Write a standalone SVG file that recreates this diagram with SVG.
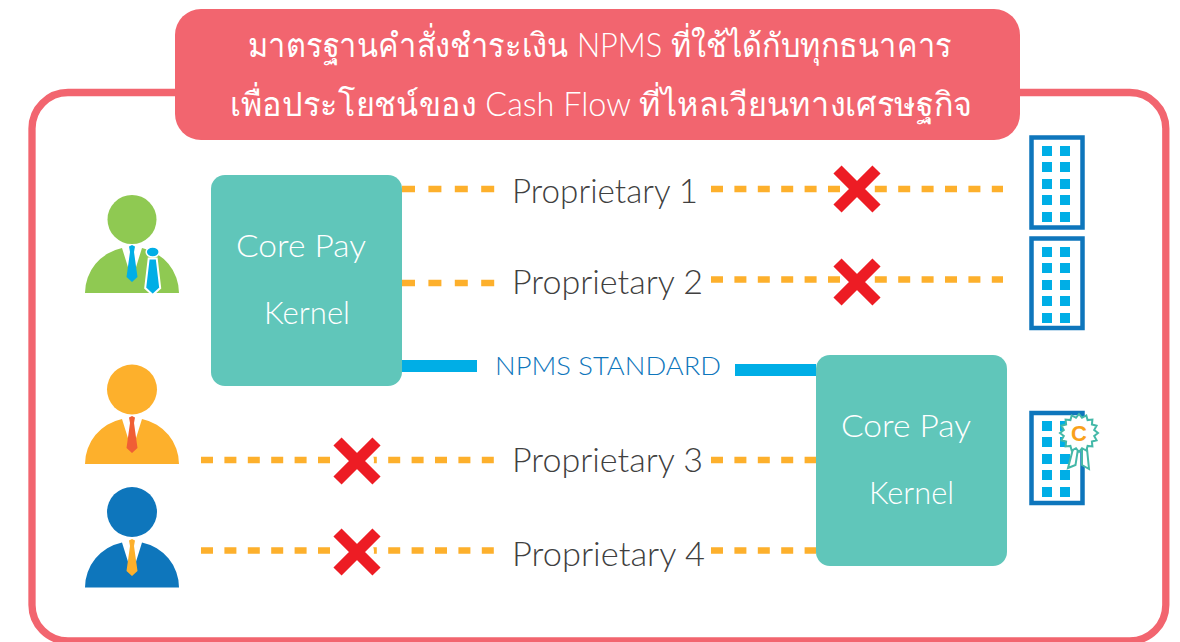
<svg xmlns="http://www.w3.org/2000/svg" width="1180" height="642" viewBox="0 0 1180 642">
<style>
.t{font-family:"Lato","Noto Sans",sans-serif;font-weight:300}
.title{font-size:33px;fill:#fff;font-family:"Lato","Noto Sans",sans-serif;font-weight:300}
.label{font-size:33px;fill:#404040}
.core{font-size:31px;fill:#fff}
.std{font-size:26px;fill:#0e76bc}
.box{fill:#60c6ba}
.dash{fill:none;stroke:#fdb02c;stroke-width:6.700;stroke-dasharray:12 11.400}
.dash2{fill:none;stroke:#fdb02c;stroke-width:6.700;stroke-dasharray:13 13.400}
.solid{fill:none;stroke:#00aee6;stroke-width:12}
.x{stroke:#ed1c24;stroke-width:11.500;fill:none}
.bframe{fill:#fff;stroke:#0e76bc;stroke-width:4.500}
.win{fill:#00aee6}
</style>
<defs>
<g id="windows">
<rect class="win" x="0" y="0" width="10" height="10"/><rect class="win" x="18" y="0" width="10" height="10"/>
<rect class="win" x="0" y="16" width="10" height="10"/><rect class="win" x="18" y="16" width="10" height="10"/>
<rect class="win" x="0" y="33" width="10" height="10"/><rect class="win" x="18" y="33" width="10" height="10"/>
<rect class="win" x="0" y="49" width="10" height="10"/><rect class="win" x="18" y="49" width="10" height="10"/>
<rect class="win" x="0" y="66" width="10" height="10"/><rect class="win" x="18" y="66" width="10" height="10"/>
</g>
<g id="cross"><circle r="17" fill="#fff"/><path class="x" d="M-19.500-19.500 19.500 19.500M19.500-19.500-19.500 19.500"/></g>
<path id="body" d="M-47 46A47 46 0 0 1-10 1L0 33 10 1A47 46 0 0 1 47 46Z"/>
<path id="tie" d="M-3-1.500 0-3 3-1.500 2 4 5.500 29 0 34-5.500 29-2 4Z"/>
</defs>

<g id="frame"><rect x="32" y="92.500" width="1133.800" height="548.500" rx="36" fill="#fff" stroke="#f2656f" stroke-width="7.300"/></g>

<g id="connectors">
<path class="dash2" d="M402 189H496"/>
<path class="dash" d="M711 189H1003"/>
<path class="dash2" d="M402 283H496"/>
<path class="dash" d="M711 279.500H1003"/>
<path class="dash" d="M201 460H496M711 460H816"/>
<path class="dash" d="M201 550.500H496M711 550.500H816"/>
<path class="solid" d="M402 366H477M735 370H816"/>
<use href="#cross" x="857" y="189"/>
<use href="#cross" x="857" y="282"/>
<use href="#cross" x="357" y="461"/>
<use href="#cross" x="357" y="552"/>
</g>

<g id="title"><rect x="175" y="9" width="845" height="131" rx="26" fill="#f2656f"/>
<text class="title" x="248" y="57" textLength="704" lengthAdjust="spacingAndGlyphs">มาตรฐานคำสั่งชำระเงิน NPMS ที่ใช้ได้กับทุกธนาคาร</text>
<text class="title" x="230" y="116" textLength="742" lengthAdjust="spacingAndGlyphs">เพื่อประโยชน์ของ Cash Flow ที่ไหลเวียนทางเศรษฐกิจ</text>
</g>

<g id="user-green" transform="translate(132,0)"><circle cx="0" cy="219.500" r="24.500" fill="#8fc952"/><use href="#body" y="247" fill="#8fc952"/><use href="#tie" y="248" fill="#00aee6"/>
<path d="M16.700 258.500 24.700 258.500 28.200 288 20.700 295 13.200 288Z" fill="#00aee6" stroke="#fff" stroke-width="2"/><ellipse cx="20.700" cy="252" rx="6.500" ry="5" fill="#00aee6" stroke="#fff" stroke-width="1.500"/></g>
<g id="user-orange" transform="translate(132,0)"><circle cx="0" cy="389.500" r="25" fill="#fdb02c"/><use href="#body" y="418" fill="#fdb02c"/><use href="#tie" y="419" fill="#f05f35"/></g>
<g id="user-blue" transform="translate(132,0)"><circle cx="0" cy="512" r="25" fill="#0e76bc"/><use href="#body" y="541.500" fill="#0e76bc"/><use href="#tie" y="542" fill="#fdb02c"/></g>

<g id="core-1"><rect class="box" x="211" y="175" width="191" height="211" rx="14"/>
<text class="t core" x="236" y="257" textLength="130" lengthAdjust="spacingAndGlyphs">Core Pay</text>
<text class="t core" x="264" y="324" textLength="86" lengthAdjust="spacingAndGlyphs">Kernel</text></g>
<g id="core-2"><rect class="box" x="816" y="355" width="191" height="211" rx="14"/>
<text class="t core" x="841" y="437" textLength="130" lengthAdjust="spacingAndGlyphs">Core Pay</text>
<text class="t core" x="869" y="504" textLength="85" lengthAdjust="spacingAndGlyphs">Kernel</text></g>

<g id="labels">
<text class="t label" x="512" y="203" textLength="186" lengthAdjust="spacingAndGlyphs">Proprietary 1</text>
<text class="t label" x="512" y="294" textLength="191" lengthAdjust="spacingAndGlyphs">Proprietary 2</text>
<text class="t label" x="512" y="472" textLength="191" lengthAdjust="spacingAndGlyphs">Proprietary 3</text>
<text class="t label" x="512" y="566" textLength="193" lengthAdjust="spacingAndGlyphs">Proprietary 4</text>
<text class="t std" x="495" y="375" textLength="226" lengthAdjust="spacingAndGlyphs">NPMS STANDARD</text>
</g>

<g id="bank-1"><rect class="bframe" x="1031.500" y="137.500" width="51" height="90"/><use href="#windows" x="1042" y="146"/></g>
<g id="bank-2"><rect class="bframe" x="1031.500" y="238.500" width="51" height="89.500"/><use href="#windows" x="1042" y="247"/></g>
<g id="bank-3"><rect class="bframe" x="1031.500" y="413" width="51" height="90"/><use href="#windows" x="1042" y="421"/>
<path d="M1073 449 1068 468 1075.500 465 1078 449ZM1082 449 1082 465 1089 469 1087 449Z" fill="#fff" stroke="#44b8a8" stroke-width="2"/>
<polygon transform="translate(1079,433)" fill="#fff" stroke="#44b8a8" stroke-width="2" points="19,0 15.200,3 17.600,7.300 12.900,8.600 13.400,13.400 8.600,12.900 7.300,17.600 3,15.200 0,19 -3,15.200 -7.300,17.600 -8.600,12.900 -13.400,13.400 -12.900,8.600 -17.600,7.300 -15.200,3 -19,0 -15.200,-3 -17.600,-7.300 -12.900,-8.600 -13.400,-13.400 -8.600,-12.900 -7.300,-17.600 -3,-15.200 0,-19 3,-15.200 7.300,-17.600 8.600,-12.900 13.400,-13.400 12.900,-8.600 17.600,-7.300 15.200,-3"/>
<text x="1079" y="441" text-anchor="middle" font-family="Liberation Sans, sans-serif" font-weight="700" font-size="22" fill="#f9a11b">C</text></g>
</svg>
